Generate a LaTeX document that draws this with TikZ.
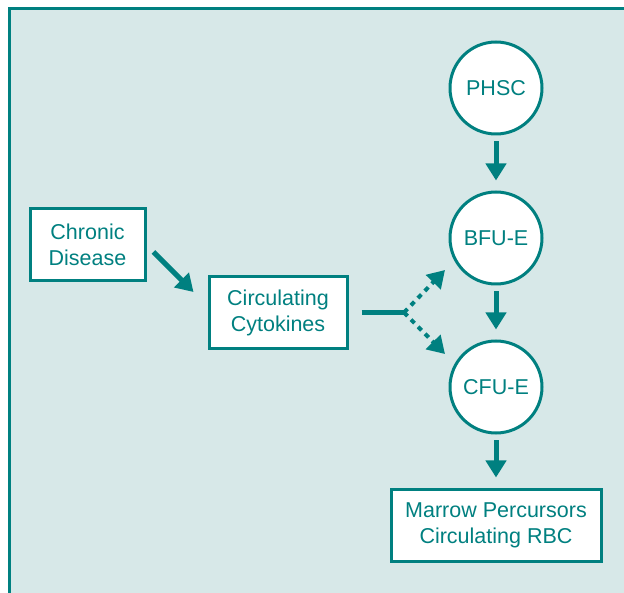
\documentclass[tikz,border=0pt]{standalone}
\usepackage{fontspec}
\setmainfont{Liberation Sans}
\usetikzlibrary{arrows.meta}
\definecolor{cellteal}{RGB}{0,128,128}
\definecolor{cellbg}{RGB}{215,232,232}

\begin{document}
\begin{tikzpicture}[x=1pt,y=-1pt,
  label text/.style={text=cellteal,font=\fontsize{21.5}{26}\selectfont,align=center},
  cell/.style={label text,draw=cellteal,fill=white,circle,line width=3,minimum size=92,inner sep=0},
  stage/.style={label text,draw=cellteal,fill=white,rectangle,line width=3,minimum height=72,inner sep=0},
  flow/.style={draw=cellteal,line width=5,-{Triangle[width=20pt,length=17pt]}},
  maybe flow/.style={flow,line width=4,dash pattern=on 5pt off 5pt}]
  \def\gapa {6}
  \def\gapb {10}

  \useasboundingbox (0,0) rectangle (624,593);
  \clip (0,0) rectangle (624,593);
  \fill[cellbg] (9,9) rectangle (640,610);
  \draw[cellteal,line width=3] (9,640) -- (9,9) -- (640,9);

  % cells of the marrow
  \node (phsc) at (496,88) [cell] {PHSC};
  \node (bfue) at (496,238) [cell] {BFU-E};
  \node (cfue) at (496,387) [cell] {CFU-E};
  \node (marrow) at (496,525) [stage,minimum width=210] {Marrow Percursors\\Circulating RBC};

  \node (chronic) at (87.5,245) [stage,minimum width=115] {Chronic\\Disease};
  \node (cytokines) at (278,312.5) [stage,minimum width=138] {Circulating\\Cytokines};

  \draw[flow,shorten <=\gapa,shorten >=\gapb] (phsc) -- (bfue);
  \draw[flow,shorten <=\gapa,shorten >=\gapb] (bfue) -- (cfue);
  \draw[flow,shorten <=\gapa,shorten >=\gapb] (cfue) -- (marrow);
  \draw[flow] ([shift={(7,7)}]chronic.east) -- ([shift={(-14,17)}]cytokines.north west);

  \coordinate (split) at (404,312.5);
  \coordinate (to bfue) at (445,270);
  \coordinate (to cfue) at (445,354);
  \draw[cellteal,line width=5,shorten <=13] (cytokines.east) -- (split);
  \draw[maybe flow] (split) -- (to bfue);
  \draw[maybe flow] (split) -- (to cfue);

\end{tikzpicture}
\end{document}
